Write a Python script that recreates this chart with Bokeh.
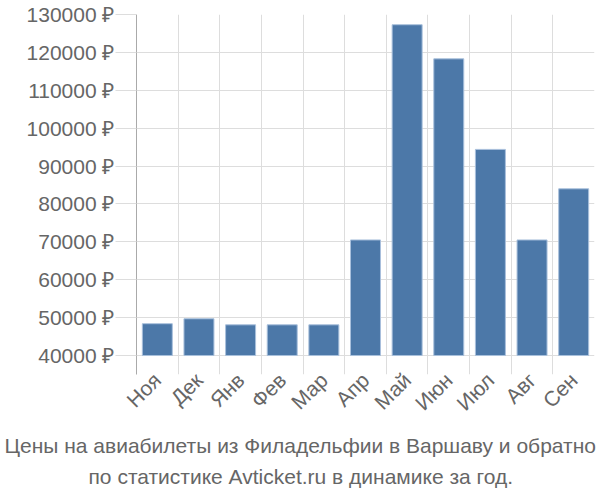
import math
from bokeh.plotting import figure
from bokeh.models import Range1d, FixedTicker, Title
from bokeh.embed import file_html
from bokeh.resources import INLINE

months = ["Ноя", "Дек", "Янв", "Фев", "Мар", "Апр", "Май", "Июн", "Июл", "Авг", "Сен"]
prices = [48400, 49700, 48100, 48100, 48100, 70500, 127300, 118300, 94400, 70500, 84000]
y_ticks = [40000, 50000, 60000, 70000, 80000, 90000, 100000, 110000, 120000, 130000]
title_lines = ["Цены на авиабилеты из Филадельфии в Варшаву и обратно",
               "по статистике Avticket.ru в динамике за год."]

n = len(months)
xs = [i + 0.5 for i in range(n)]

p = figure(width=600, height=500, output_backend="svg", toolbar_location=None,
           x_range=Range1d(0, n), y_range=Range1d(34990, 130000),
           min_border_left=136, min_border_right=6, min_border_top=14,
           min_border_bottom=126)
p.outline_line_color = None
p.background_fill_color = "white"

p.vbar(x=xs, top=prices, bottom=40000, width=0.72,
       fill_color="#4c78a8", line_color="#a9c0dc", line_width=1)

# y axis
p.yaxis.ticker = FixedTicker(ticks=y_ticks)
p.yaxis.major_label_overrides = {t: f"{t} ₽" for t in y_ticks}
p.yaxis.major_tick_out = 21
p.yaxis.major_tick_in = 0
p.yaxis.minor_tick_out = 0
p.yaxis.minor_tick_in = 0
p.yaxis.major_tick_line_color = "#dddddd"
p.yaxis.axis_line_color = "#aaaaaa"
p.yaxis.major_label_text_font = "Liberation Sans"
p.yaxis.major_label_text_font_size = "21px"
p.yaxis.major_label_text_color = "#666666"
p.yaxis.major_label_standoff = 1

# x axis
p.xaxis.ticker = FixedTicker(ticks=xs)
p.xaxis.major_label_overrides = {x: m for x, m in zip(xs, months)}
p.xaxis.major_label_orientation = math.pi / 4
p.xaxis.major_tick_out = 0
p.xaxis.major_tick_in = 0
p.xaxis.minor_tick_out = 0
p.xaxis.minor_tick_in = 0
p.xaxis.axis_line_color = None
p.xaxis.major_label_text_font = "Liberation Sans"
p.xaxis.major_label_text_font_size = "21px"
p.xaxis.major_label_text_color = "#666666"
p.xaxis.major_label_standoff = 2

p.xgrid.ticker = FixedTicker(ticks=list(range(n + 1)))
p.xgrid.grid_line_color = "#dddddd"
p.ygrid.grid_line_color = "#dddddd"

offsets = [-132, -48]
standoffs = [12, 0]
for line, off, so in zip(title_lines, offsets, standoffs):
    t = Title(text=line, align="left", text_font="Liberation Sans",
              text_font_size="21px", text_font_style="normal", text_color="#666666",
              standoff=so, offset=off)
    p.add_layout(t, "below")

open("out.html", "w").write(file_html(p, INLINE))
